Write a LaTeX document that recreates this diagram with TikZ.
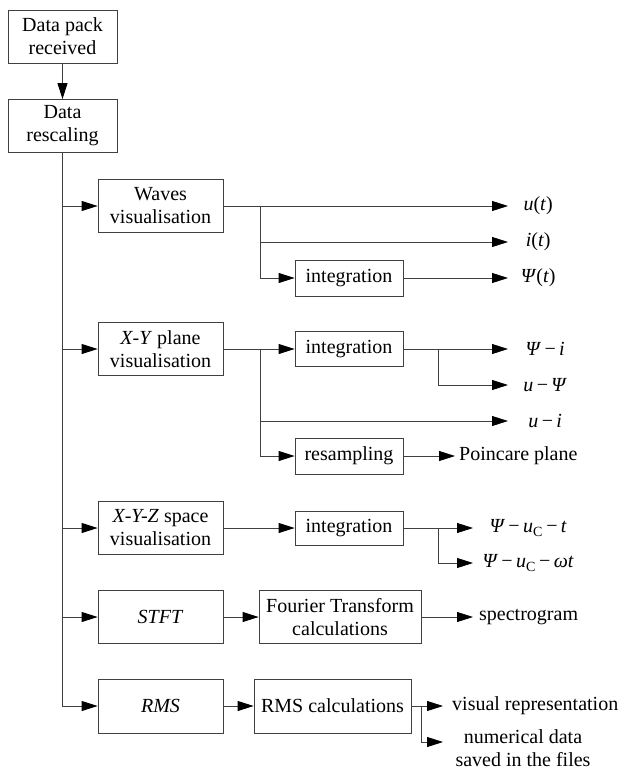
\documentclass[tikz,border=0pt]{standalone}
\usepackage{fontspec}
\setmainfont{Liberation Serif}
\usetikzlibrary{arrows.meta}

\begin{document}
\begin{tikzpicture}[x=1pt, y=-1pt,
    every node/.style={align=center, font=\fontsize{20}{23}\selectfont},
    box/.style={draw=black!75, line width=0.8pt, inner sep=0pt, minimum height=53pt},
    lbl/.style={anchor=west, inner sep=0pt},
    arr/.style={draw=black!75, line width=0.8pt, -{Triangle[length=16pt,width=10pt,color=black]}}]
    \useasboundingbox (0,0) rectangle (629,773);

    \node[box, minimum width=109pt] (rcv) at (62.5,36.5) {Data pack\\received};
    \node[box, minimum width=109pt] (resc) at (62.5,126) {Data\\rescaling};

    \node[box, minimum width=125pt] (waves) at (160.5,206) {Waves\\visualisation};
    \node[box, minimum width=108pt, minimum height=36pt] (intw) at (349,278) {integration};

    \node[box, minimum width=125pt] (xy) at (160.5,349) {\textit{X-Y} plane\\visualisation};
    \node[box, minimum width=108pt, minimum height=35pt] (intxy) at (349,349) {integration};
    \node[box, minimum width=108pt, minimum height=36pt] (resamp) at (349,456) {resampling};

    \node[box, minimum width=125pt] (xyz) at (160.5,528) {\textit{X-Y-Z} space\\visualisation};
    \node[box, minimum width=108pt, minimum height=34pt] (intxyz) at (349,528) {integration};

    \node[box, minimum width=125pt] (stft) at (160.5,617) {\textit{STFT}};
    \node[box, minimum width=162pt] (fourier) at (340,617) {Fourier Transform\\calculations};

    \node[box, minimum width=125pt, minimum height=54pt] (rms) at (160.5,706) {\textit{RMS}};
    \node[box, minimum width=157pt, minimum height=54pt] (rmscalc) at (332.5,706) {RMS calculations};

    % outputs
    \node[lbl, text width=60pt] (ut) at (508,206) {\textit{u}(\textit{t})};
    \node[lbl, text width=60pt] (it) at (508,242) {\textit{i}(\textit{t})};
    \node[lbl, text width=60pt] (psit) at (508,278) {\textit{Ψ}(\textit{t})};
    \node[lbl, text width=74pt] (psii) at (508,349) {\textit{Ψ}\,−\,\textit{i}};
    \node[lbl, text width=74pt] (upsi) at (508,385) {\textit{u}\,−\,\textit{Ψ}};
    \node[lbl, text width=74pt] (ui) at (508,421) {\textit{u}\,−\,\textit{i}};
    \node[lbl, inner xsep=4pt] (poinc) at (455,456) {Poincare plane};
    \node[lbl, text width=110pt] (psiut) at (473,528) {\textit{Ψ}\,−\,\textit{u}\textsubscript{C}\,−\,\textit{t}};
    \node[lbl, text width=110pt] (psiuw) at (473,563) {\textit{Ψ}\,−\,\textit{u}\textsubscript{C}\,−\,\textit{ωt}};
    \node[lbl, inner xsep=6pt] (spec) at (473,617) {spectrogram};
    \node[lbl, inner xsep=9pt] (vis) at (443,706) {visual representation};
    \node[anchor=north, inner sep=0pt] (num) at (523,729) {numerical data\\saved in the files};
    \coordinate (numend) at (443,742);

    \coordinate (wb) at (260,206);
    \coordinate (xyb) at (260,349);
    \coordinate (ib) at (438,349);
    \coordinate (izb) at (438,528);
    \coordinate (rb) at (421,706);

    \draw[arr] (rcv) -- (resc);
    \foreach \b in {waves, xy, xyz, stft, rms}
        \draw[arr] (resc.south) |- (\b.west);

    \draw[arr] (waves.east) -- (ut.west);
    \draw[arr] (wb) |- (it.west);
    \draw[arr] (wb) |- (intw.west);
    \draw[arr] (intw) -- (psit.west);

    \draw[arr] (xy) -- (intxy);
    \draw[arr] (xyb) |- (ui.west);
    \draw[arr] (xyb) |- (resamp.west);
    \draw[arr] (intxy) -- (psii.west);
    \draw[arr] (ib) |- (upsi.west);
    \draw[arr] (resamp) -- (poinc);

    \draw[arr] (xyz) -- (intxyz);
    \draw[arr] (intxyz) -- (psiut.west);
    \draw[arr] (izb) |- (psiuw.west);

    \draw[arr] (stft) -- (fourier);
    \draw[arr] (fourier) -- (spec);

    \draw[arr] (rms) -- (rmscalc);
    \draw[arr] (rmscalc) -- (vis);
    \draw[arr] (rb) |- (numend);
\end{tikzpicture}
\end{document}
